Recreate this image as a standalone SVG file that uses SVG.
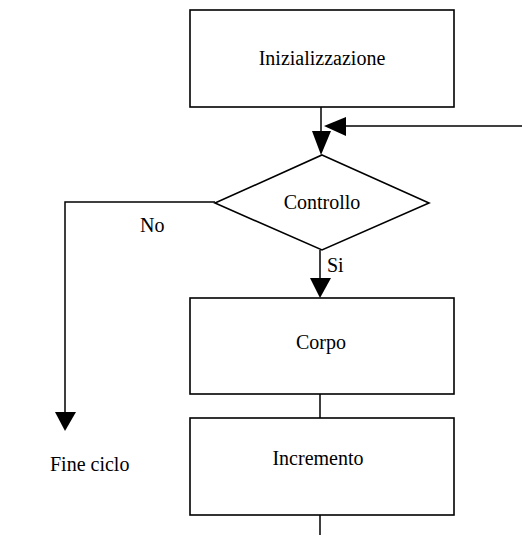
<svg xmlns="http://www.w3.org/2000/svg" width="523" height="535" viewBox="0 0 523 535">
<style>
.box{fill:#fff;stroke:#000;stroke-width:1.6}
.ln{fill:none;stroke:#000;stroke-width:1.5}
.ah{fill:#000;stroke:none}
text{font-family:"Liberation Serif","Times New Roman",serif;font-size:20px;fill:#000}
.c{text-anchor:middle}
</style>
<g id="connectors">
<line class="ln" x1="321" y1="107" x2="321" y2="135"/>
<polygon class="ah" points="312,131 331,131 321,155"/>
<line class="ln" x1="522" y1="126" x2="340" y2="126"/>
<polygon class="ah" points="324,126 346,117 346,136"/>
<polyline class="ln" points="215,202 65,202 65,416"/>
<polygon class="ah" points="55,412 76,412 65,431"/>
<line class="ln" x1="320" y1="250" x2="320" y2="282"/>
<polygon class="ah" points="310,278 331,278 320,298"/>
<line class="ln" x1="320" y1="394" x2="320" y2="418"/>
<line class="ln" x1="320" y1="515" x2="320" y2="535"/>
</g>
<g id="init">
<rect class="box" x="190" y="10" width="264" height="97"/>
<text class="c" x="322" y="65">Inizializzazione</text>
</g>
<g id="controllo">
<polygon class="box" points="322,155 429,203 322,250 215,203"/>
<text class="c" x="322" y="209">Controllo</text>
</g>
<g id="corpo">
<rect class="box" x="190" y="298" width="264" height="96"/>
<text class="c" x="321" y="349">Corpo</text>
</g>
<g id="incremento">
<rect class="box" x="190" y="418" width="264" height="97"/>
<text class="c" x="318" y="465">Incremento</text>
</g>
<g id="labels">
<text x="140" y="232">No</text>
<text x="327" y="272">Si</text>
<text x="50" y="471">Fine ciclo</text>
</g>
</svg>
